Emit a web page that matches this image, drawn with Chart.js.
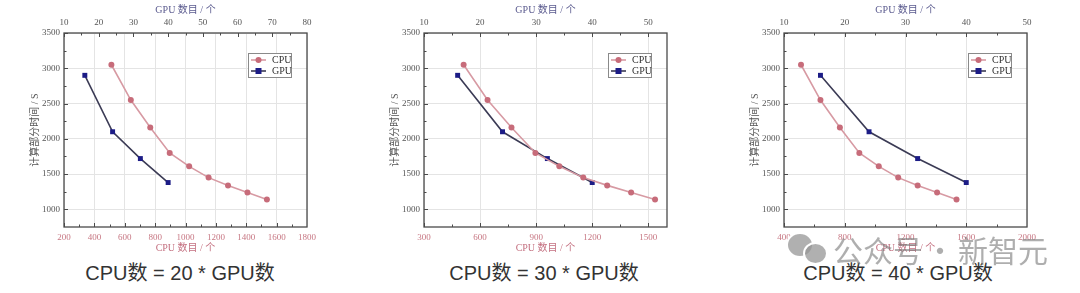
<!DOCTYPE html>
<html><head><meta charset="utf-8">
<script src="https://cdn.jsdelivr.net/npm/chart.js@4.4.1/dist/chart.umd.min.js"></script>
<style>
html,body{margin:0;padding:0;background:#fff;width:1080px;height:293px;overflow:hidden;position:relative}
.panel{position:absolute;top:0;width:360px;height:293px}
.panel canvas{position:absolute;left:0;top:0}
.cap{position:absolute;top:263px;width:360px;text-align:center;font-family:'Liberation Sans','Noto Sans CJK SC',sans-serif;font-size:20px;line-height:20px;color:#333;white-space:nowrap}
.wm{position:absolute;font-family:'Noto Sans CJK SC',sans-serif;font-size:30px;line-height:30px;color:rgba(120,120,120,0.6);white-space:nowrap}
.bub{position:absolute;border-radius:50%;background:rgba(150,150,150,0.75);border:2px solid #fff}
</style></head><body>
<div class="panel" style="left:0"><canvas id="c0" width="360" height="258"></canvas></div>
<div class="panel" style="left:360px"><canvas id="c1" width="360" height="258"></canvas></div>
<div class="panel" style="left:720px"><canvas id="c2" width="360" height="258"></canvas></div>
<div class="cap" id="cap0" style="left:0"></div>
<div class="cap" id="cap1" style="left:364px"></div>
<div class="cap" id="cap2" style="left:718px"></div>
<div class="bub" style="left:786px;top:232px;width:24px;height:22px"></div>
<div class="bub" style="left:803px;top:242px;width:21px;height:19px"></div>
<div class="wm" style="left:833px;top:234px">公众号</div>
<div class="wm" style="left:925px;top:234px">·</div>
<div class="wm" style="left:958px;top:234px">新智元</div>
<script>
// ---- data ----
const cpuCounts = [512, 640, 768, 896, 1024, 1152, 1280, 1408, 1536];
const cpuTimes  = [3050, 2550, 2160, 1800, 1610, 1450, 1340, 1240, 1140];
const gpuCounts = [16, 24, 32, 40];
const gpuTimes  = [2900, 2100, 1720, 1380];
const ratios = [20, 30, 40];
const cpuAxisRanges = [[200, 1800], [300, 1600], [400, 2000]];
const gpuAxisRanges = [[10, 80], [10, 1600 / 30], [10, 50]];
const cpuTickLabels = [
  [200, 400, 600, 800, 1000, 1200, 1400, 1600, 1800],
  [300, 600, 900, 1200, 1500],
  [400, 800, 1200, 1600, 2000]
];
const gpuTickLabels = [
  [10, 20, 30, 40, 50, 60, 70, 80],
  [10, 20, 30, 40, 50],
  [10, 20, 30, 40, 50]
];
const timeRange = [750, 3500];
const timeTicks = [1000, 1500, 2000, 2500, 3000, 3500];
const captions = ['CPU数 = 20 * GPU数', 'CPU数 = 30 * GPU数', 'CPU数 = 40 * GPU数'];
const seriesNames = ['CPU', 'GPU'];

const serif = "'Liberation Serif','Noto Sans CJK SC',serif";
const tickFont = {family: serif, size: 9};
const titleFont = {family: serif, size: 10};
const plain = v => String(v);

function mids(arr){ const m=[]; for(let k=0;k<arr.length-1;k++) m.push((arr[k]+arr[k+1])/2); return m; }

const framePlugin = {
  id:'frame',
  beforeDatasetsDraw(chart){
    const ctx = chart.ctx, ca = chart.chartArea;
    ctx.save();
    ctx.strokeStyle = '#4a4a4a'; ctx.lineWidth = 1.3;
    ctx.strokeRect(ca.left, ca.top, ca.right-ca.left, ca.bottom-ca.top);
    ctx.lineWidth = 1;
    const drawT = (scale, vals, len, side) => {
      vals.forEach(v => {
        const p = Math.round(scale.getPixelForValue(v)) + 0.5;
        ctx.beginPath();
        if (side==='bottom'){ if(p<ca.left||p>ca.right) return; ctx.moveTo(p, ca.bottom); ctx.lineTo(p, ca.bottom-len); }
        if (side==='top'){ if(p<ca.left||p>ca.right) return; ctx.moveTo(p, ca.top); ctx.lineTo(p, ca.top+len); }
        if (side==='left'){ if(p<ca.top||p>ca.bottom) return; ctx.moveTo(ca.left, p); ctx.lineTo(ca.left+len, p); }
        ctx.stroke();
      });
    };
    const sx = chart.scales.x, sx2 = chart.scales.x2, sy = chart.scales.y;
    const xt = sx.ticks.map(t=>t.value), x2t = sx2.ticks.map(t=>t.value), yt = sy.ticks.map(t=>t.value);
    drawT(sx, xt, 4, 'bottom'); drawT(sx, mids(xt), 2.5, 'bottom');
    drawT(sx2, x2t, 4, 'top'); drawT(sx2, mids(x2t).concat([x2t[x2t.length-1]+5]), 2.5, 'top');
    drawT(sy, yt, 4, 'left'); drawT(sy, mids(yt).concat([yt[0]-250]), 2.5, 'left');
    ctx.restore();
  },
  afterDatasetsDraw(chart){
    const ctx = chart.ctx, ca = chart.chartArea;
    const x0 = ca.left + 184, y0 = ca.top + 20, w = 43, h = 24;
    ctx.save();
    ctx.fillStyle = '#fff'; ctx.fillRect(x0, y0, w, h);
    ctx.strokeStyle = '#8a8a8a'; ctx.lineWidth = 1;
    ctx.strokeRect(x0+0.5, y0+0.5, w, h);
    chart.data.datasets.forEach((ds, k) => {
      const cy = y0 + 7 + k*11;
      ctx.strokeStyle = ds.borderColor; ctx.lineWidth = 1.6;
      ctx.beginPath(); ctx.moveTo(x0+3, cy); ctx.lineTo(x0+18, cy); ctx.stroke();
      ctx.fillStyle = ds.pointBackgroundColor;
      if (ds.pointStyle === 'rect') { ctx.fillRect(x0+10.5-3, cy-3, 6, 6); }
      else { ctx.beginPath(); ctx.arc(x0+10.5, cy, 3, 0, Math.PI*2); ctx.fill(); }
      ctx.fillStyle = '#333'; ctx.font = "10px " + serif;
      ctx.textBaseline = 'middle'; ctx.textAlign = 'left';
      ctx.fillText(ds.label, x0+24, cy+0.5);
    });
    ctx.restore();
  }
};

function makeChart(i){
  const [xmin, xmax] = cpuAxisRanges[i];
  const [gmin, gmax] = gpuAxisRanges[i];
  new Chart(document.getElementById('c'+i), {
    type: 'scatter',
    data: {datasets: [
      {label: seriesNames[0], xAxisID:'x', yAxisID:'y',
       data: cpuCounts.map((x,k)=>({x, y: cpuTimes[k]})),
       showLine:true, borderColor:'#d79aa3', borderWidth:1.6,
       pointStyle:'circle', pointRadius:3, pointBackgroundColor:'#c76c7a', pointBorderColor:'#c76c7a', pointBorderWidth:0},
      {label: seriesNames[1], xAxisID:'x2', yAxisID:'y',
       data: gpuCounts.map((x,k)=>({x, y: gpuTimes[k]})),
       showLine:true, borderColor:'#3b3b55', borderWidth:1.6,
       pointStyle:'rect', pointRadius:3.5, pointBackgroundColor:'#1c1c86', pointBorderColor:'#1c1c86', pointBorderWidth:0}
    ]},
    options: {
      responsive:false, animation:false, devicePixelRatio:1,
      layout:{padding:{left:0, right:53, top:0, bottom:0}},
      plugins:{legend:{display:false}, tooltip:{enabled:false}},
      scales:{
        x:{type:'linear', position:'bottom', min:xmin, max:xmax,
           afterBuildTicks:s=>{ s.ticks = cpuTickLabels[i].map(v=>({value:v})); },
           afterFit:s=>{ s.height = 31; },
           grid:{color:'#e4e4e4', drawTicks:false, lineWidth:1}, border:{display:false},
           ticks:{color:'#c77783', font:tickFont, padding:5, maxRotation:0, autoSkip:false, callback:plain},
           title:{display:true, text:'CPU 数目 / 个', color:'#c47080', font:titleFont, padding:{top:0,bottom:4}}},
        x2:{type:'linear', position:'top', min:gmin, max:gmax,
           afterBuildTicks:s=>{ s.ticks = gpuTickLabels[i].map(v=>({value:v})); },
           afterFit:s=>{ s.height = 33; },
           grid:{display:false, drawTicks:false}, border:{display:false},
           ticks:{color:'#555', font:tickFont, padding:5, maxRotation:0, autoSkip:false, callback:plain},
           title:{display:true, text:'GPU 数目 / 个', color:'#5a5a8e', font:titleFont, padding:{top:4,bottom:0}}},
        y:{type:'linear', position:'left', min:timeRange[0], max:timeRange[1],
           afterBuildTicks:s=>{ s.ticks = timeTicks.map(v=>({value:v})); },
           afterFit:s=>{ s.width = 64; },
           grid:{color:'#e4e4e4', drawTicks:false, lineWidth:1}, border:{display:false},
           ticks:{color:'#555', font:tickFont, padding:4, autoSkip:false, callback:plain},
           title:{display:true, text:'计算部分时间 / S', color:'#555', font:titleFont, padding:{top:29,bottom:0}}}
      }
    },
    plugins:[framePlugin]
  });
  document.getElementById('cap'+i).textContent = captions[i];
}
[0,1,2].forEach(makeChart);
</script>
</body></html>
